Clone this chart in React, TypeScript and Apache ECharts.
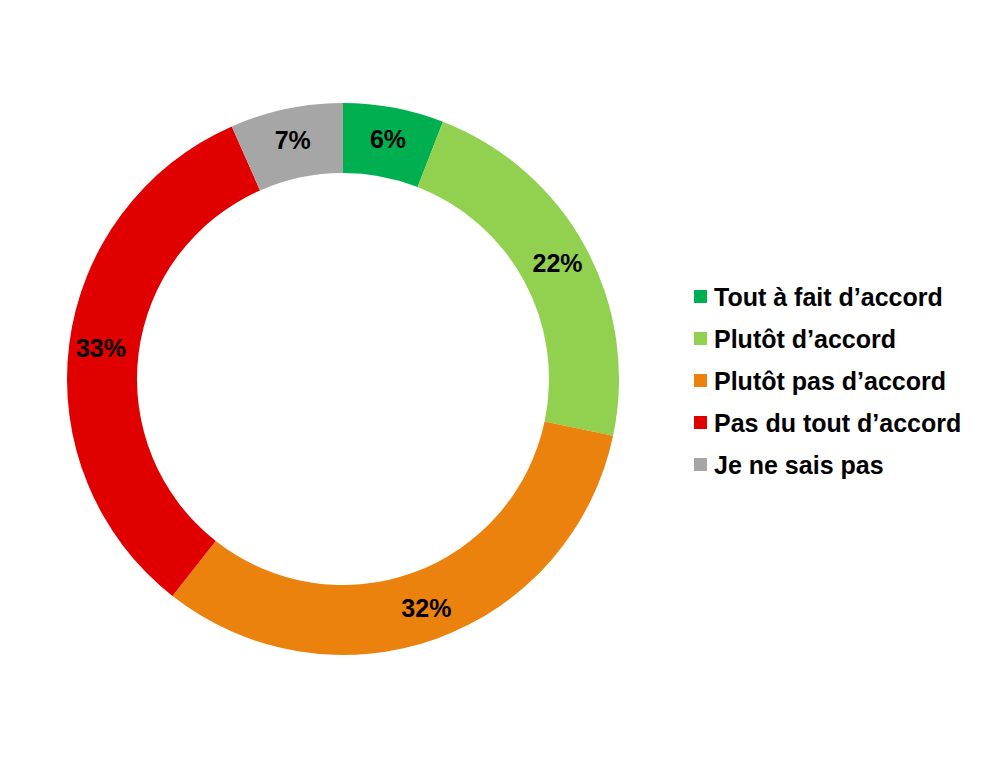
import React, { useEffect, useRef } from "react";
import * as echarts from "echarts";

const categories = [
  "Tout à fait d’accord",
  "Plutôt d’accord",
  "Plutôt pas d’accord",
  "Pas du tout d’accord",
  "Je ne sais pas",
];
// shares; labels show them rounded
const values = [5.9, 22.4, 32.3, 32.8, 6.6];
const colors = ["#00B050", "#92D050", "#EC820E", "#E00000", "#A6A6A6"];

export default function App() {
  const ref = useRef<HTMLDivElement>(null);
  useEffect(() => {
    if (!ref.current) return;
    const chart = echarts.init(ref.current, null, { renderer: "svg" });
    const font = "'Liberation Sans', Arial, Helvetica, sans-serif";
    chart.setOption({
      animation: false,
      backgroundColor: "#ffffff",
      color: colors,
      legend: {
        orient: "vertical",
        left: 689,
        top: 279,
        icon: "rect",
        itemWidth: 13,
        itemHeight: 13,
        itemGap: 17,
        selectedMode: false,
        textStyle: {
          fontFamily: font,
          fontWeight: "bold",
          fontSize: 25,
          lineHeight: 25,
          color: "#000",
          padding: [0, 0, 0, 2],
        },
        data: categories,
      },
      series: [
        {
          type: "pie",
          center: [343, 379],
          radius: [206, 276],
          startAngle: 90,
          clockwise: true,
          avoidLabelOverlap: false,
          emphasis: { disabled: true },
          label: {
            show: true,
            position: "inside",
            formatter: (p: any) => Math.round(p.value) + "%",
            fontFamily: font,
            fontWeight: "bold",
            fontSize: 25,
            color: "#000",
          },
          labelLine: { show: false },
          itemStyle: { borderWidth: 0 },
          data: categories.map((name, i) => ({ name, value: values[i] })),
        },
      ],
    });
    return () => chart.dispose();
  }, []);
  return (
    <div
      ref={ref}
      style={{ position: "absolute", left: 0, top: 0, width: 983, height: 760 }}
    />
  );
}
